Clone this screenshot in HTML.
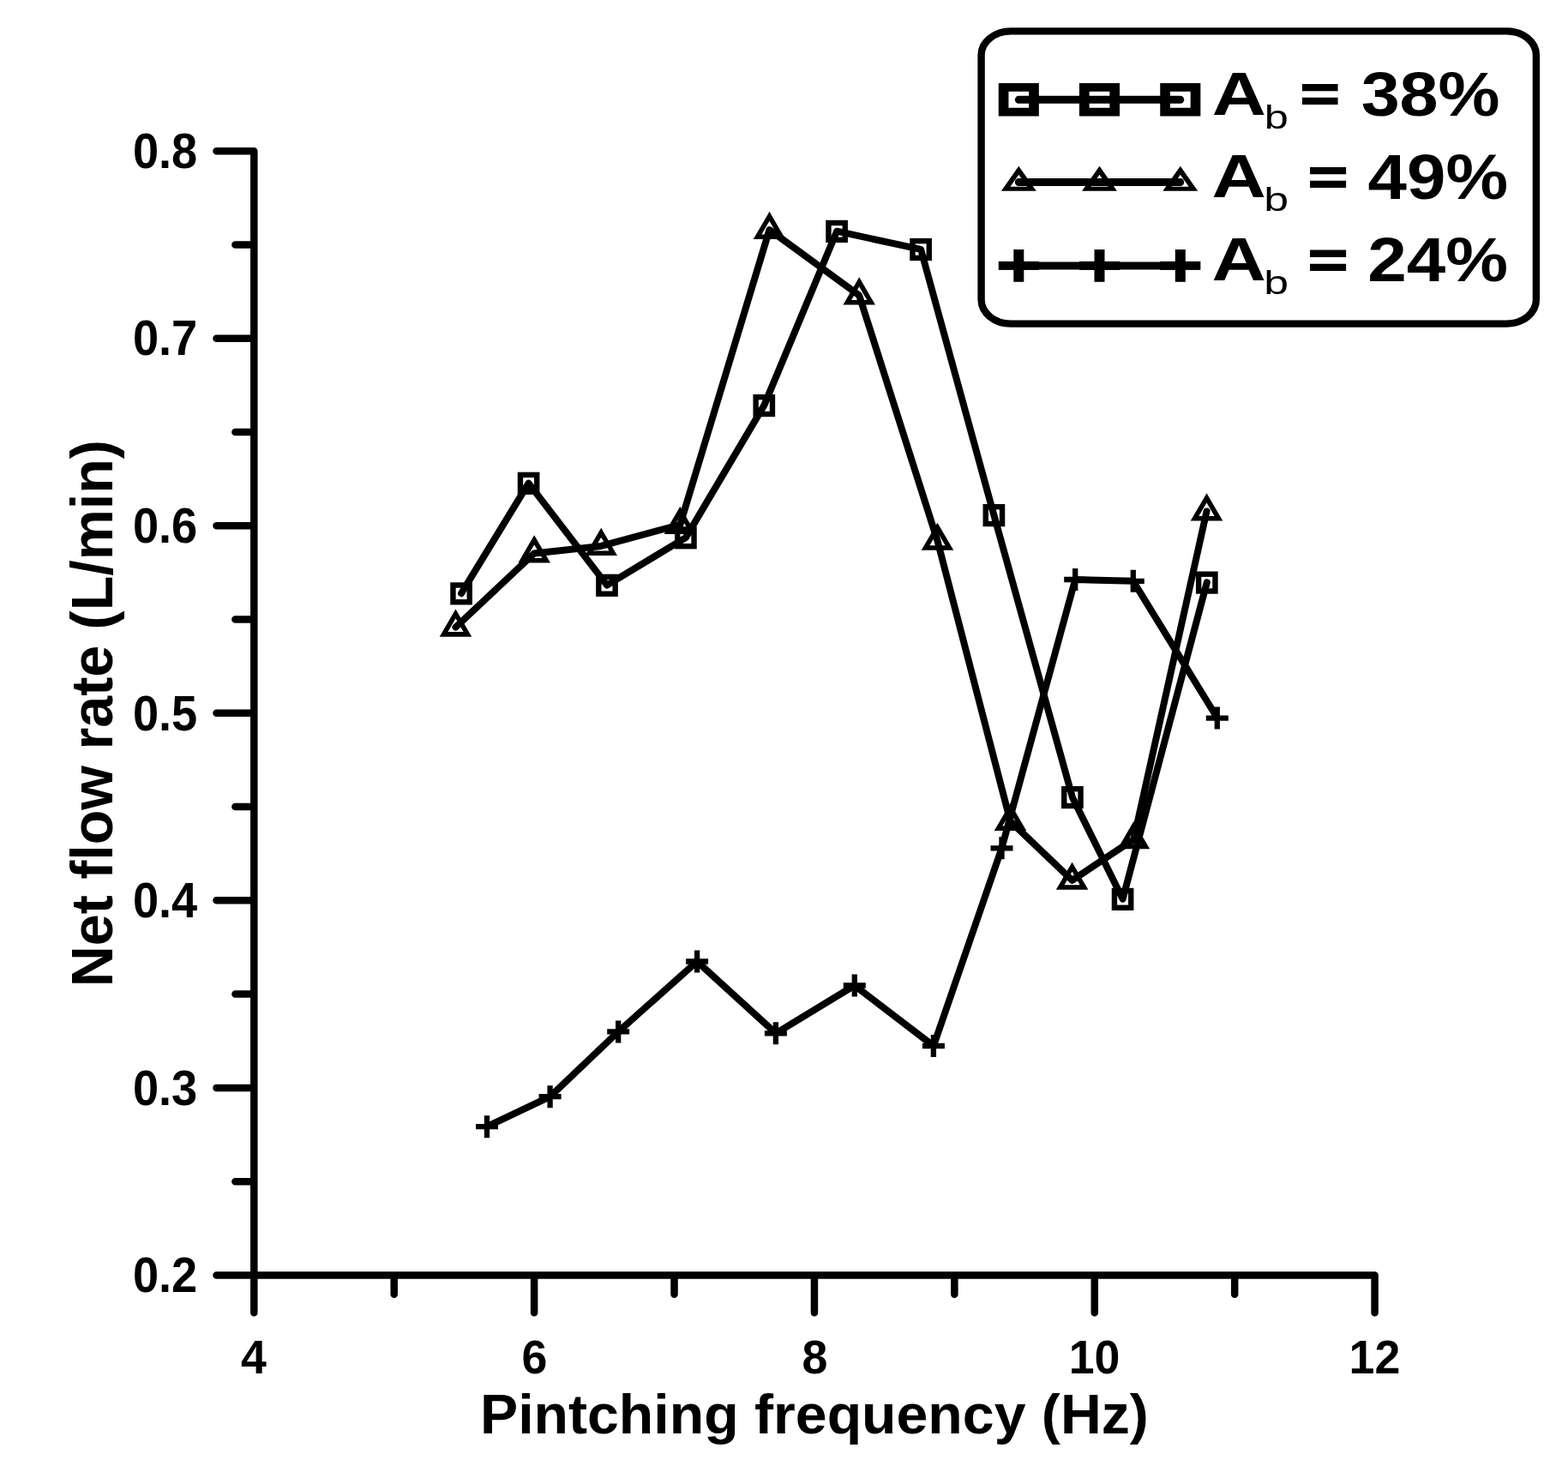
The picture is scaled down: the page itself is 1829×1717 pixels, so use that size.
<!DOCTYPE html>
<html lang="en"><head><meta charset="utf-8"><title>Net flow rate vs pinching frequency</title>
<style>
html,body{margin:0;padding:0;background:#fff;}
svg{display:block;font-family:"Liberation Sans", sans-serif;fill:#000;}
text{white-space:pre;}
</style></head>
<body>
<svg width="1829" height="1717" viewBox="0 0 1829 1717">
<rect width="1829" height="1717" fill="#fff"/>
<path d="M296.30 176.25 L296.30 1487.40 L1603.60 1487.40 M296.30 1487.40 H252.50 M296.30 1378.14 H274.40 M296.30 1268.88 H252.50 M296.30 1159.61 H274.40 M296.30 1050.35 H252.50 M296.30 941.09 H274.40 M296.30 831.83 H252.50 M296.30 722.56 H274.40 M296.30 613.30 H252.50 M296.30 504.04 H274.40 M296.30 394.78 H252.50 M296.30 285.51 H274.40 M296.30 176.25 H252.50 M296.30 1487.40 V1531.20 M459.71 1487.40 V1509.80 M623.12 1487.40 V1531.20 M786.54 1487.40 V1509.80 M949.95 1487.40 V1531.20 M1113.36 1487.40 V1509.80 M1276.77 1487.40 V1531.20 M1440.19 1487.40 V1509.80 M1603.60 1487.40 V1531.20" fill="none" stroke="#000" stroke-width="8.50" stroke-linecap="round" stroke-linejoin="round"/>
<text transform="translate(154.90 1507.10) scale(0.5421 0.5650)" font-size="100" font-weight="bold" text-anchor="start">0.2</text>
<text transform="translate(154.90 1288.58) scale(0.5421 0.5650)" font-size="100" font-weight="bold" text-anchor="start">0.3</text>
<text transform="translate(154.90 1070.05) scale(0.5421 0.5650)" font-size="100" font-weight="bold" text-anchor="start">0.4</text>
<text transform="translate(154.90 851.53) scale(0.5421 0.5650)" font-size="100" font-weight="bold" text-anchor="start">0.5</text>
<text transform="translate(154.90 633.00) scale(0.5421 0.5650)" font-size="100" font-weight="bold" text-anchor="start">0.6</text>
<text transform="translate(154.90 414.48) scale(0.5421 0.5650)" font-size="100" font-weight="bold" text-anchor="start">0.7</text>
<text transform="translate(154.90 195.95) scale(0.5421 0.5650)" font-size="100" font-weight="bold" text-anchor="start">0.8</text>
<text transform="translate(281.10 1602.20) scale(0.5371 0.5560)" font-size="100" font-weight="bold" text-anchor="start">4</text>
<text transform="translate(608.58 1602.20) scale(0.5371 0.5560)" font-size="100" font-weight="bold" text-anchor="start">6</text>
<text transform="translate(935.39 1602.20) scale(0.5371 0.5560)" font-size="100" font-weight="bold" text-anchor="start">8</text>
<text transform="translate(1246.71 1602.20) scale(0.5371 0.5560)" font-size="100" font-weight="bold" text-anchor="start">10</text>
<text transform="translate(1573.51 1602.20) scale(0.5371 0.5560)" font-size="100" font-weight="bold" text-anchor="start">12</text>
<text transform="translate(559.97 1672.30) scale(0.6623 0.6460)" font-size="100" font-weight="bold" text-anchor="start">Pintching frequency (Hz)</text>
<text transform="translate(130.90 1151.24) rotate(-90) scale(0.6640 0.6780)" font-size="100" font-weight="bold" text-anchor="start">Net flow rate (L/min)</text>
<polyline points="538.1,692.2 616.6,563.6 708.0,682.6 799.9,627.1 891.3,472.9 976.1,269.7 1074.1,290.8 1159.4,600.9 1250.9,929.9 1309.6,1048.7 1407.8,679.4" fill="none" stroke="#000" stroke-width="8.00" stroke-linecap="round" stroke-linejoin="round"/>
<polyline points="531.5,731.6 623.2,645.4 701.2,636.9 793.3,612.0 897.5,268.0 1002.2,344.5 1093.5,630.8 1178.5,958.0 1250.6,1026.8 1322.4,979.1 1407.5,596.5" fill="none" stroke="#000" stroke-width="8.00" stroke-linecap="round" stroke-linejoin="round"/>
<polyline points="568.0,1314.2 641.6,1279.2 721.2,1203.4 813.1,1121.5 904.9,1205.3 996.8,1149.5 1088.9,1220.0 1168.5,989.3 1254.2,676.0 1321.8,677.8 1419.3,836.5" fill="none" stroke="#000" stroke-width="8.00" stroke-linecap="round" stroke-linejoin="round"/>
<rect x="528.45" y="682.50" width="19.30" height="19.80" fill="none" stroke="#000" stroke-width="6.40"/>
<rect x="606.95" y="553.90" width="19.30" height="19.80" fill="none" stroke="#000" stroke-width="6.40"/>
<rect x="698.35" y="672.90" width="19.30" height="19.80" fill="none" stroke="#000" stroke-width="6.40"/>
<rect x="790.25" y="617.40" width="19.30" height="19.80" fill="none" stroke="#000" stroke-width="6.40"/>
<rect x="881.65" y="463.20" width="19.30" height="19.80" fill="none" stroke="#000" stroke-width="6.40"/>
<rect x="966.45" y="260.00" width="19.30" height="19.80" fill="none" stroke="#000" stroke-width="6.40"/>
<rect x="1064.45" y="281.10" width="19.30" height="19.80" fill="none" stroke="#000" stroke-width="6.40"/>
<rect x="1149.75" y="591.20" width="19.30" height="19.80" fill="none" stroke="#000" stroke-width="6.40"/>
<rect x="1241.25" y="920.20" width="19.30" height="19.80" fill="none" stroke="#000" stroke-width="6.40"/>
<rect x="1299.95" y="1039.00" width="19.30" height="19.80" fill="none" stroke="#000" stroke-width="6.40"/>
<rect x="1398.15" y="669.70" width="19.30" height="19.80" fill="none" stroke="#000" stroke-width="6.40"/>
<path d="M531.50 715.95 L517.55 739.88 L545.45 739.88 Z" fill="none" stroke="#000" stroke-width="5.55" stroke-linejoin="miter" stroke-miterlimit="10"/>
<path d="M623.20 629.75 L609.25 653.67 L637.15 653.67 Z" fill="none" stroke="#000" stroke-width="5.55" stroke-linejoin="miter" stroke-miterlimit="10"/>
<path d="M701.20 621.25 L687.25 645.17 L715.15 645.17 Z" fill="none" stroke="#000" stroke-width="5.55" stroke-linejoin="miter" stroke-miterlimit="10"/>
<path d="M793.30 596.35 L779.35 620.27 L807.25 620.27 Z" fill="none" stroke="#000" stroke-width="5.55" stroke-linejoin="miter" stroke-miterlimit="10"/>
<path d="M897.50 252.35 L883.55 276.28 L911.45 276.28 Z" fill="none" stroke="#000" stroke-width="5.55" stroke-linejoin="miter" stroke-miterlimit="10"/>
<path d="M1002.20 328.85 L988.25 352.78 L1016.15 352.78 Z" fill="none" stroke="#000" stroke-width="5.55" stroke-linejoin="miter" stroke-miterlimit="10"/>
<path d="M1093.50 615.15 L1079.55 639.07 L1107.45 639.07 Z" fill="none" stroke="#000" stroke-width="5.55" stroke-linejoin="miter" stroke-miterlimit="10"/>
<path d="M1178.50 942.35 L1164.55 966.27 L1192.45 966.27 Z" fill="none" stroke="#000" stroke-width="5.55" stroke-linejoin="miter" stroke-miterlimit="10"/>
<path d="M1250.60 1011.15 L1236.65 1035.07 L1264.55 1035.07 Z" fill="none" stroke="#000" stroke-width="5.55" stroke-linejoin="miter" stroke-miterlimit="10"/>
<path d="M1322.40 963.45 L1308.45 987.38 L1336.35 987.38 Z" fill="none" stroke="#000" stroke-width="5.55" stroke-linejoin="miter" stroke-miterlimit="10"/>
<path d="M1407.50 580.85 L1393.55 604.77 L1421.45 604.77 Z" fill="none" stroke="#000" stroke-width="5.55" stroke-linejoin="miter" stroke-miterlimit="10"/>
<path d="M555.00 1314.20 H581.00 M568.00 1301.20 V1327.20" fill="none" stroke="#000" stroke-width="6.30"/>
<path d="M628.60 1279.20 H654.60 M641.60 1266.20 V1292.20" fill="none" stroke="#000" stroke-width="6.30"/>
<path d="M708.20 1203.40 H734.20 M721.20 1190.40 V1216.40" fill="none" stroke="#000" stroke-width="6.30"/>
<path d="M800.10 1121.50 H826.10 M813.10 1108.50 V1134.50" fill="none" stroke="#000" stroke-width="6.30"/>
<path d="M891.90 1205.30 H917.90 M904.90 1192.30 V1218.30" fill="none" stroke="#000" stroke-width="6.30"/>
<path d="M983.80 1149.50 H1009.80 M996.80 1136.50 V1162.50" fill="none" stroke="#000" stroke-width="6.30"/>
<path d="M1075.90 1220.00 H1101.90 M1088.90 1207.00 V1233.00" fill="none" stroke="#000" stroke-width="6.30"/>
<path d="M1155.50 989.30 H1181.50 M1168.50 976.30 V1002.30" fill="none" stroke="#000" stroke-width="6.30"/>
<path d="M1241.20 676.00 H1267.20 M1254.20 663.00 V689.00" fill="none" stroke="#000" stroke-width="6.30"/>
<path d="M1308.80 677.80 H1334.80 M1321.80 664.80 V690.80" fill="none" stroke="#000" stroke-width="6.30"/>
<path d="M1406.80 837.60 H1432.80 M1419.80 824.60 V850.60" fill="none" stroke="#000" stroke-width="6.30"/>
<rect x="1144.6" y="36.4" width="647.30" height="341.20" rx="34.5" ry="28" fill="none" stroke="#000" stroke-width="8.4"/>
<line x1="1188.30" y1="116.30" x2="1376.80" y2="116.30" stroke="#000" stroke-width="8.9" stroke-linecap="round"/>
<path fill-rule="evenodd" d="M1164.75 97.05 h47.10 v38.50 h-47.10 Z M1176.45 106.75 h23.70 v19.10 h-23.70 Z"/>
<path fill-rule="evenodd" d="M1258.95 97.05 h47.10 v38.50 h-47.10 Z M1270.65 106.75 h23.70 v19.10 h-23.70 Z"/>
<path fill-rule="evenodd" d="M1353.25 97.05 h47.10 v38.50 h-47.10 Z M1364.95 106.75 h23.70 v19.10 h-23.70 Z"/>
<line x1="1188.30" y1="212.50" x2="1376.80" y2="212.50" stroke="#000" stroke-width="8.9" stroke-linecap="round"/>
<path transform="translate(1188.30 213.1) scale(1.2235 1)" d="M0 -14.30 L-12.38 7.15 L12.38 7.15 Z" fill="none" stroke="#000" stroke-width="5.0" stroke-linejoin="miter" stroke-miterlimit="10"/>
<path transform="translate(1282.50 213.1) scale(1.2235 1)" d="M0 -14.30 L-12.38 7.15 L12.38 7.15 Z" fill="none" stroke="#000" stroke-width="5.0" stroke-linejoin="miter" stroke-miterlimit="10"/>
<path transform="translate(1376.80 213.1) scale(1.2235 1)" d="M0 -14.30 L-12.38 7.15 L12.38 7.15 Z" fill="none" stroke="#000" stroke-width="5.0" stroke-linejoin="miter" stroke-miterlimit="10"/>
<line x1="1188.30" y1="309.90" x2="1376.80" y2="309.90" stroke="#000" stroke-width="9" stroke-linecap="butt"/>
<rect x="1164.75" y="304.90" width="47.1" height="10" />
<rect x="1182.30" y="291.00" width="12" height="37.8" />
<rect x="1258.95" y="304.90" width="47.1" height="10" />
<rect x="1276.50" y="291.00" width="12" height="37.8" />
<rect x="1353.25" y="304.90" width="47.1" height="10" />
<rect x="1370.80" y="291.00" width="12" height="37.8" />
<g>
<text transform="translate(1413.72 133.50) scale(0.8749 0.7028)" font-size="100" font-weight="bold" text-anchor="start">A</text>
<text transform="translate(1474.65 150.41) scale(0.5048 0.3949)" font-size="100" font-weight="normal" text-anchor="start">b</text>
<text transform="translate(1517.06 128.80) scale(0.7797 0.5702)" font-size="100" font-weight="bold" stroke="#000" stroke-width="2.20" vector-effect="non-scaling-stroke" style="vector-effect:non-scaling-stroke">=</text>
<text transform="translate(1587.64 134.89) scale(0.8089 0.7203)" font-size="100" font-weight="bold" text-anchor="start">38%</text>
</g>
<g>
<text transform="translate(1413.42 230.20) scale(0.8764 0.7093)" font-size="100" font-weight="bold" text-anchor="start">A</text>
<text transform="translate(1474.16 246.22) scale(0.5181 0.3867)" font-size="100" font-weight="normal" text-anchor="start">b</text>
<text transform="translate(1526.02 225.86) scale(0.7897 0.5742)" font-size="100" font-weight="bold" stroke="#000" stroke-width="2.20" vector-effect="non-scaling-stroke" style="vector-effect:non-scaling-stroke">=</text>
<text transform="translate(1595.56 232.38) scale(0.8169 0.7387)" font-size="100" font-weight="bold" text-anchor="start">49%</text>
</g>
<g>
<text transform="translate(1413.42 326.60) scale(0.8764 0.6948)" font-size="100" font-weight="bold" text-anchor="start">A</text>
<text transform="translate(1474.16 343.12) scale(0.5181 0.3854)" font-size="100" font-weight="normal" text-anchor="start">b</text>
<text transform="translate(1526.02 323.01) scale(0.7897 0.5848)" font-size="100" font-weight="bold" stroke="#000" stroke-width="2.20" vector-effect="non-scaling-stroke" style="vector-effect:non-scaling-stroke">=</text>
<text transform="translate(1595.16 328.14) scale(0.8189 0.7181)" font-size="100" font-weight="bold" text-anchor="start">24%</text>
</g>
</svg>
</body></html>
